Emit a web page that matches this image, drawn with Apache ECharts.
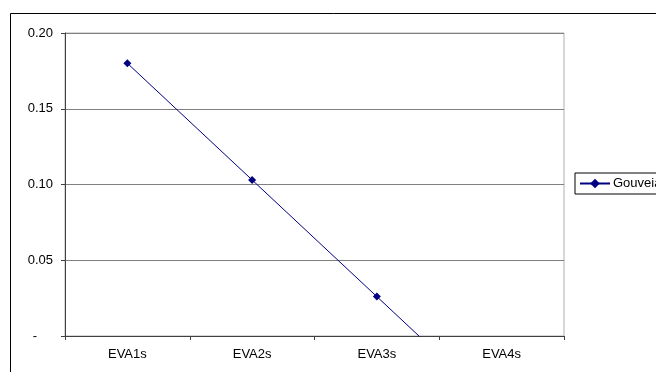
<!DOCTYPE html>
<html><head><meta charset="utf-8">
<script src="https://cdn.jsdelivr.net/npm/echarts@6/dist/echarts.min.js"></script>
<style>html,body{margin:0;padding:0;background:#fff}#c{width:656px;height:372px}</style>
</head><body><div id="c"></div>
<script>
const categories = ["EVA1s", "EVA2s", "EVA3s", "EVA4s"];
const gouveia = [0.180, 0.103, 0.026, -0.051];
const yTicks = [0, 0.05, 0.10, 0.15, 0.20];
const seriesName = "Gouveia";

const chart = echarts.init(document.getElementById('c'), null, {renderer: 'canvas'});
const font = '"Liberation Sans", Arial, sans-serif';
chart.setOption({
  animation: false,
  backgroundColor: '#fff',
  graphic: [{
    type: 'rect', left: 8, top: 11, z: -10, silent: true,
    shape: {width: 720, height: 420},
    style: {fill: 'none', stroke: '#000', lineWidth: 1}
  }],
  grid: {left: 65, top: 33, right: 92, bottom: 36, show: true, borderColor: '#b0b0b0', borderWidth: 1, backgroundColor: 'transparent'},
  legend: {
    left: 575, top: 173, orient: 'vertical',
    borderColor: '#000', borderWidth: 1, padding: [4, 6, 4, 4],
    itemWidth: 30, itemHeight: 12, itemGap: 0,
    textStyle: {fontFamily: font, fontSize: 13, color: '#000', padding: [0, 0, 0, -2]},
    data: [seriesName]
  },
  xAxis: {
    type: 'category', data: categories, boundaryGap: true,
    axisLine: {lineStyle: {color: '#404040', width: 1}},
    axisTick: {show: true, length: 4, inside: false, lineStyle: {color: '#404040'}},
    axisLabel: {fontFamily: font, fontSize: 13, color: '#000', margin: 12},
    splitLine: {show: false}
  },
  yAxis: {
    type: 'value', min: 0, max: 0.2, interval: 0.05,
    axisLine: {show: true, lineStyle: {color: '#404040', width: 1}},
    axisTick: {show: true, length: 4, lineStyle: {color: '#404040'}},
    axisLabel: {fontFamily: font, fontSize: 13, color: '#000', margin: 12,
      formatter: v => (Math.abs(v) < 1e-9 ? '{d|-}' : v.toFixed(2)),
      rich: {d: {fontFamily: font, fontSize: 13, color: '#000', padding: [0, 16, 0, 0]}}},
    splitLine: {show: true, lineStyle: {color: '#808080', width: 1}}
  },
  series: [{
    name: seriesName, type: 'line', data: gouveia, clip: true,
    symbol: 'diamond', symbolSize: 8, showSymbol: true,
    lineStyle: {color: '#000080', width: 1},
    itemStyle: {color: '#000080'}
  }]
});
</script></body></html>
